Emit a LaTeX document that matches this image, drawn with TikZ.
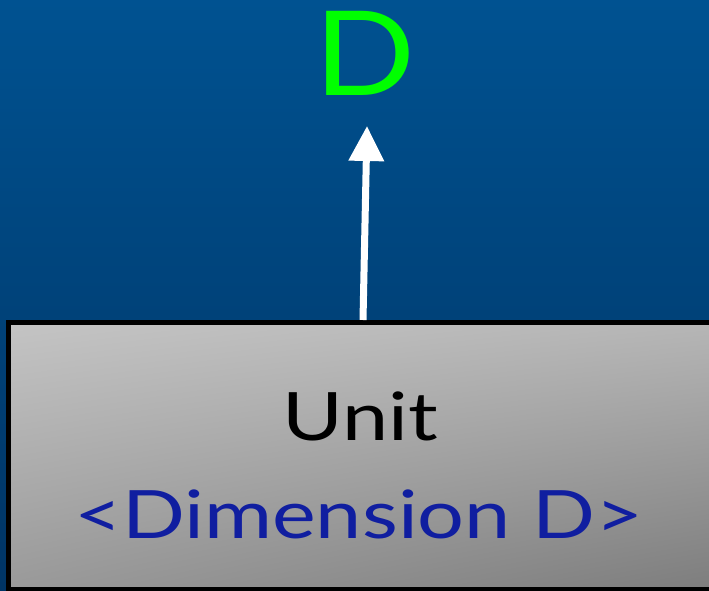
\documentclass[tikz,border=0pt]{standalone}
\usepackage{fontspec}
\setmainfont{Lato}
\usetikzlibrary{arrows.meta,shadings}
\definecolor{bgtop}{RGB}{0,82,145}
\definecolor{bgbot}{RGB}{0,52,100}
\definecolor{boxlight}{RGB}{196,196,196}
\definecolor{boxdark}{RGB}{125,125,125}
\definecolor{dgreen}{RGB}{0,255,0}
\definecolor{dimblue}{RGB}{16,30,160}
\tikzset{
  boxstyle/.style={draw=black, line width=5bp},
  arrowstyle/.style={draw=white, line width=7bp, -{Triangle[length=35bp,width=34bp]}},
  boxtext/.style={anchor=base, inner sep=0pt, font=\fontsize{67}{70}\selectfont, xscale=1.24},
}
\begin{document}
\begin{tikzpicture}[x=1bp,y=-1bp]
\useasboundingbox (0,0) rectangle (709,591);
\shade[top color=bgtop, bottom color=bgbot] (0,0) rectangle (709,591);
\node[text=dgreen, font=\fontsize{118}{120}\selectfont, inner sep=0pt, anchor=base, xscale=1.13] (d) at (365,96) {D};
\coordinate (tip) at (367,126);
\shade[upper left=boxlight, upper right=boxlight!80!boxdark, lower left=boxlight!40!boxdark, lower right=boxdark] (8.5,322.5) rectangle (720,589);
\draw[boxstyle] (8.5,322.5) rectangle (720,589);
\node[boxtext] (u) at (360,440) {Unit};
\node[boxtext, text=dimblue] (dim) at (358.5,538) {<Dimension D>};
\coordinate (start) at (363,320);
\draw[arrowstyle] (start) -- (tip);
\end{tikzpicture}
\end{document}
